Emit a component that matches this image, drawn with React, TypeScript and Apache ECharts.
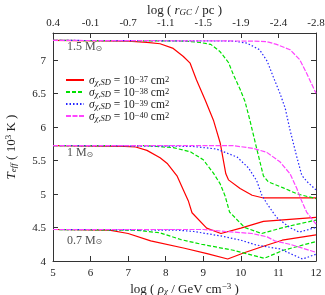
import React, { useEffect, useRef } from "react";
import * as echarts from "echarts";

const FONT = "Liberation Serif";

const topTickLabels = ["0.4", "-0.1", "-0.7", "-1.1", "-1.5", "-1.9", "-2.4", "-2.8"];
const sigmaKeys = ["s37", "s38", "s39", "s40"];
const sigmaExps = ["−37", "−38", "−39", "−40"];
const sigmaColors = ["#ff0000", "#00e000", "#2424ff", "#ff44ff"];
const sigmaDash: any[] = ["solid", [4, 2], [1.5, 2], [5, 1.5]];

// 1.5 Msun
const red15 = [[5, 7.29], [7, 7.28], [7.5, 7.26], [7.85, 7.24], [8.2, 7.17], [8.47, 7.05], [8.65, 6.95], [8.82, 6.7], [9.05, 6.4], [9.27, 6.1], [9.45, 5.76], [9.6, 5.3], [9.67, 5.21], [9.98, 5.08], [10.3, 4.98], [10.6, 4.94], [12, 4.94]];
const green15 = [[5, 7.29], [8.5, 7.28], [8.9, 7.26], [9.2, 7.23], [9.45, 7.12], [9.67, 6.96], [9.8, 6.78], [9.98, 6.56], [10.11, 6.38], [10.24, 6.1], [10.42, 5.68], [10.6, 5.27], [10.73, 5.18], [11.13, 5.09], [11.5, 5.0], [12, 4.93]];
const blue15 = [[5, 7.29], [9.8, 7.28], [10.16, 7.25], [10.5, 7.15], [10.7, 6.98], [10.86, 6.75], [11.04, 6.5], [11.18, 6.28], [11.31, 5.95], [11.49, 5.55], [11.62, 5.28], [11.75, 5.19], [12, 5.06]];
const magenta15 = [[5, 7.29], [10.3, 7.28], [10.7, 7.27], [10.95, 7.23], [11.31, 7.15], [11.57, 7.0], [11.75, 6.8], [12, 6.5]];

// 1 Msun
const red10 = [[5, 5.72], [6.9, 5.71], [7.2, 5.7], [7.5, 5.65], [7.85, 5.54], [8.05, 5.45], [8.3, 5.27], [8.47, 5.06], [8.6, 4.9], [8.7, 4.72], [9.09, 4.49], [9.47, 4.41], [10.0, 4.49], [10.6, 4.59], [11.3, 4.62], [12, 4.65]];
const green10 = [[5, 5.72], [7.5, 5.72], [8.2, 5.69], [8.65, 5.63], [9.0, 5.51], [9.27, 5.31], [9.45, 5.15], [9.58, 4.97], [9.7, 4.73], [10.1, 4.5], [10.55, 4.41], [11.2, 4.51], [12, 4.61]];
const blue10 = [[5, 5.72], [8.7, 5.71], [9.35, 5.67], [9.9, 5.55], [10.2, 5.39], [10.42, 5.2], [10.56, 4.98], [10.7, 4.85], [10.95, 4.65], [11.3, 4.5], [11.55, 4.43], [12, 4.5]];
const magenta10 = [[5, 5.72], [9.8, 5.72], [10.33, 5.68], [10.69, 5.62], [11.04, 5.48], [11.31, 5.3], [11.49, 5.08], [11.6, 4.92], [11.75, 4.73], [12, 4.55]];

// 0.7 Msun
const red07 = [[5, 4.47], [6.5, 4.46], [7.0, 4.41], [7.6, 4.3], [8.5, 4.19], [9.1, 4.11], [9.65, 4.03], [10.07, 4.12], [10.6, 4.22], [11.1, 4.31], [12, 4.39]];
const green07 = [[5, 4.47], [7.2, 4.46], [7.85, 4.42], [8.4, 4.32], [8.95, 4.25], [9.8, 4.16], [10.62, 4.04], [11.13, 4.16], [12, 4.29]];
const blue07 = [[5, 4.47], [8.3, 4.46], [8.75, 4.44], [9.5, 4.37], [10.0, 4.31], [10.4, 4.24], [11.04, 4.18], [11.64, 4.03], [12, 4.1]];
const magenta07 = [[5, 4.47], [9.0, 4.47], [9.6, 4.44], [10.3, 4.41], [10.7, 4.36], [10.9, 4.3], [11.3, 4.25], [12, 4.13]];

const curvesBySigma = [
  [red15, red10, red07],
  [green15, green10, green07],
  [blue15, blue10, blue07],
  [magenta15, magenta10, magenta07],
];

const massLabels = ["1.5", "1", "0.7"];
const massLabelY = [7.2, 5.62, 4.32];

const richBase = {
  i: { fontStyle: "italic", fontFamily: FONT, fontSize: 13, color: "#222" },
  sub: { fontFamily: FONT, fontSize: 9, verticalAlign: "bottom", lineHeight: 7, color: "#222" },
  isub: { fontFamily: FONT, fontStyle: "italic", fontSize: 9, verticalAlign: "bottom", lineHeight: 7, color: "#222" },
  sup: { fontFamily: FONT, fontSize: 9, verticalAlign: "top", lineHeight: 6, color: "#222" },
};

const axisCommon = {
  axisLine: { show: true, lineStyle: { color: "#333", width: 1 } },
  axisTick: { show: true, inside: true, length: 5, lineStyle: { color: "#333" } },
  splitLine: { show: false },
};

export default function App() {
  const ref = useRef<HTMLDivElement>(null);
  useEffect(() => {
    const chart = echarts.init(ref.current!, null, { renderer: "svg" });
    const series: any[] = [];
    curvesBySigma.forEach((curves, si) => {
      curves.forEach((data) => {
        series.push({
          type: "line",
          name: sigmaKeys[si],
          data,
          symbol: "none",
          showSymbol: false,
          xAxisIndex: 0,
          yAxisIndex: 0,
          itemStyle: { color: sigmaColors[si] },
          lineStyle: { color: sigmaColors[si], width: 1.2, type: sigmaDash[si] },
        });
      });
    });
    series.push({
      type: "scatter",
      name: "mass",
      symbolSize: 0,
      data: massLabels.map((m, k) => [5.37, massLabelY[k]]),
      label: {
        show: true,
        position: "right",
        distance: 0,
        formatter: (p: any) => `${massLabels[p.dataIndex]} M{msub|⊙}`,
        fontFamily: FONT,
        fontSize: 12,
        color: "#222",
        rich: {
          msub: { fontFamily: "DejaVu Sans", fontSize: 8, verticalAlign: "bottom", lineHeight: 8, color: "#222" },
        },
      },
      silent: true,
    });

    const legendRich = {
      t: { fontFamily: FONT, fontSize: 11.5, color: "#222", lineHeight: 12 },
      i: { fontStyle: "italic", fontFamily: FONT, fontSize: 11.5, color: "#222", lineHeight: 12 },
      isub: { fontFamily: FONT, fontStyle: "italic", fontSize: 8.5, verticalAlign: "bottom", lineHeight: 6, color: "#222" },
      sup: { fontFamily: FONT, fontSize: 8.5, verticalAlign: "top", lineHeight: 6, color: "#222" },
    };
    const nameRich = { ...richBase, t: { fontFamily: FONT, fontSize: 13, color: "#222", lineHeight: 14 } };

    chart.setOption({
      animation: false,
      grid: { left: 53, right: 9, top: 33, bottom: 34, outerBoundsMode: "none", containLabel: false },
      legend: {
        orient: "vertical",
        left: 65,
        top: 74,
        padding: 0,
        itemWidth: 18,
        itemHeight: 10,
        itemGap: 0,
        data: sigmaKeys,
        itemStyle: { opacity: 0 },
        formatter: (n: string) => {
          const k = sigmaKeys.indexOf(n);
          return `{i|σ}{isub|χ,SD}{t| = 10}{sup|${sigmaExps[k]}}{t| cm}{sup|2}`;
        },
        textStyle: { fontFamily: FONT, fontSize: 11.5, color: "#222", rich: legendRich },
      },
      xAxis: [
        {
          type: "value",
          position: "bottom",
          min: 5,
          max: 12,
          interval: 1,
          ...axisCommon,
          axisLabel: { fontFamily: FONT, fontSize: 11, color: "#222", margin: 5 },
          name: "{t|log ( }{i|ρ}{isub|χ}{t| / GeV cm}{sup|−3}{t| )}",
          nameLocation: "middle",
          nameGap: 20,
          nameTextStyle: { fontFamily: FONT, fontSize: 13, color: "#222", rich: nameRich },
        },
        {
          type: "value",
          position: "top",
          min: 5,
          max: 12,
          interval: 1,
          ...axisCommon,
          axisLabel: {
            fontFamily: FONT,
            fontSize: 11,
            color: "#222",
            margin: 6,
            formatter: (v: number) => topTickLabels[Math.round(v - 5)] ?? "",
          },
          name: "{t|log ( }{i|r}{isub|GC}{t| / pc )}",
          nameLocation: "middle",
          nameGap: 17,
          nameMoveOverlap: false,
          nameTextStyle: { fontFamily: FONT, fontSize: 13, color: "#222", rich: nameRich },
        },
      ],
      yAxis: [
        {
          type: "value",
          position: "left",
          min: 4,
          max: 7.4,
          interval: 0.5,
          ...axisCommon,
          axisLabel: { fontFamily: FONT, fontSize: 11, color: "#222", margin: 7, showMaxLabel: false },
          name: "{i|T}{isub|eff}{t| ( 10}{sup|3}{t| K )}",
          nameLocation: "middle",
          nameGap: 36,
          nameRotate: 90,
          nameTextStyle: { fontFamily: FONT, fontSize: 13, color: "#222", rich: nameRich },
        },
        {
          type: "value",
          position: "right",
          min: 4,
          max: 7.4,
          interval: 0.5,
          ...axisCommon,
          axisLabel: { show: false },
        },
      ],
      series,
    });
    return () => chart.dispose();
  }, []);
  return <div ref={ref} style={{ position: "fixed", left: 0, top: 0, width: 325, height: 295 }} />;
}
